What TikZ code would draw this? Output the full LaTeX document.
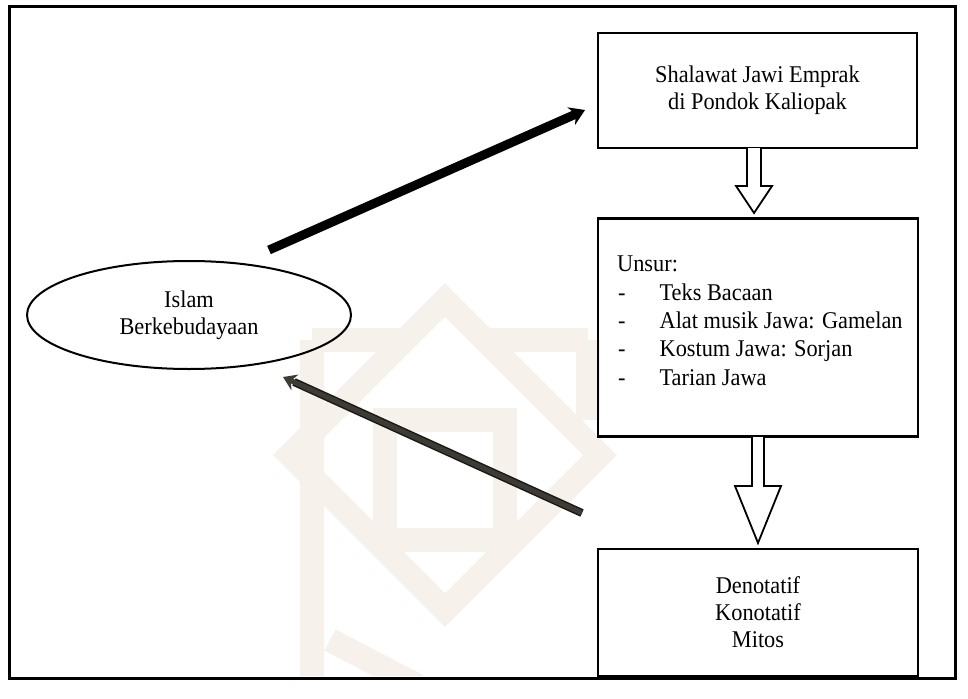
\documentclass[tikz,border=0pt]{standalone}
\usepackage{fontspec}
\setmainfont{Liberation Serif}[FakeStretch=0.93]
\usetikzlibrary{shapes.geometric,arrows.meta,calc}
\definecolor{wm}{RGB}{246,242,235}
\definecolor{arrowgray}{RGB}{62,58,52}
\begin{document}
\begin{tikzpicture}[x=1pt,y=-1pt,
  txt/.style={font=\fontsize{24}{27}\selectfont},
  boxnode/.style={draw, line width=2.6pt, rectangle, inner sep=0pt, txt, align=center},
  hollow/.style={draw, line width=1.8pt, fill=white, line join=miter},
  wmband/.style={draw=wm, line width=24pt, line join=miter}]
\useasboundingbox (0,0) rectangle (968,698);
\fill[white] (0,0) rectangle (968,698);
% faint watermark (approximation)
\begin{scope}
\clip (12,10) rectangle (952,675);
\draw[wmband] (445,300) -- (600,455) -- (445,610) -- (290,455) -- cycle;
\draw[wmband] (312,340) -- (400,340);
\draw[wmband] (490,340) -- (588,340);
\draw[wmband] (312,340) -- (312,700);
\draw[wmband] (588,340) -- (588,420);
\draw[wmband] (385,420) -- (505,420) -- (505,540) -- (385,540) -- cycle;
\draw[wmband] (330,640) -- (445,700);
\end{scope}
% outer frame
\draw[line width=3pt] (9,7) rectangle (955,678);
% boxes
\node[boxnode, minimum width=319pt, minimum height=115pt] (top) at (757.5,90.5)
  {Shalawat Jawi Emprak\\di Pondok Kaliopak};
\node[boxnode, minimum width=320pt, minimum height=218pt] (mid) at (758,327.5) {};
\node[txt, anchor=north west, align=left, inner sep=0pt, font=\fontsize{24}{28.3}\selectfont] (unsur) at (617,256)
  {Unsur:\\
   \hspace{1pt}-\hspace{34pt}Teks Bacaan\\
   \hspace{1pt}-\hspace{34pt}Alat musik Jawa: Gamelan\\
   \hspace{1pt}-\hspace{34pt}Kostum Jawa: Sorjan\\
   \hspace{1pt}-\hspace{34pt}Tarian Jawa};
\node[boxnode, minimum width=320pt, minimum height=127pt] (bot) at (758,612.5)
  {Denotatif\\Konotatif\\Mitos};
\node[draw, ellipse, line width=2pt, minimum width=324pt, minimum height=108pt, inner sep=0pt, txt, align=center] (islam) at (189,315)
  {Islam\\Berkebudayaan};
% hollow arrow 1 (top -> mid)
\draw[hollow] (747,148) -- (747,186) -- (736,186) -- (754,213) -- (772,186) -- (761,186) -- (761,148);
% hollow arrow 2 (mid -> bot)
\draw[hollow] (752,437) -- (752,486) -- (735,486) -- (758,543) -- (781,486) -- (764,486) -- (764,437);
% thick arrows
\coordinate (a1s) at (269,250);
\coordinate (a1e) at (585,110);
\draw[line width=9pt, -{Stealth[length=15pt,width=19pt]}] (a1s) -- (a1e);
\coordinate (a2s) at (582,513);
\coordinate (a2e) at (283,377);
\draw[line width=8pt, black!90] (a2s) -- ($(a2e)!12pt!(a2s)$);
\draw[line width=5pt, color=arrowgray, -{Stealth[length=13pt,width=17pt]}] (a2s) -- (a2e);
\end{tikzpicture}
\end{document}
